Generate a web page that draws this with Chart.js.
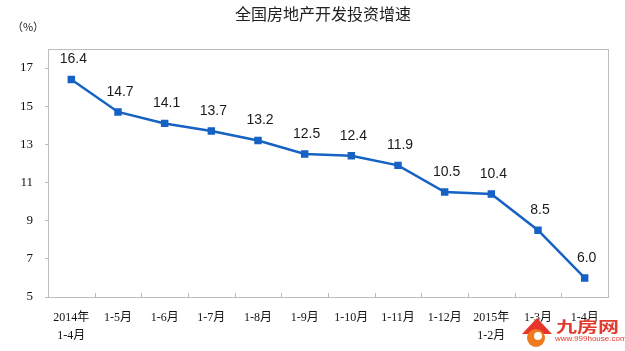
<!DOCTYPE html>
<html>
<head>
<meta charset="utf-8">
<script src="https://cdn.jsdelivr.net/npm/chart.js@4/dist/chart.umd.min.js"></script>
<style>
  html,body{margin:0;padding:0;background:#fff;overflow:hidden;}
</style>
</head>
<body>
<canvas id="growthChart" width="625" height="351"></canvas>
<script>
const TITLE = "全国房地产开发投资增速";
const UNIT = "（%）";
const periods = [["2014年","1-4月"],"1-5月","1-6月","1-7月","1-8月","1-9月","1-10月","1-11月","1-12月",["2015年","1-2月"],"1-3月","1-4月"];
const growth = [16.4,14.7,14.1,13.7,13.2,12.5,12.4,11.9,10.5,10.4,8.5,6.0];
const yTicks = [5,7,9,11,13,15,17];

const BLUE = "#1562c4";
const SERIF = "'Liberation Serif','Noto Sans CJK SC',serif";
const SANS = "'Liberation Sans',Arial,sans-serif";

// frame, inner x ticks, value labels, title and watermark
const decor = {
  id:"decor",
  afterDraw(chart){
    const {ctx, chartArea:a, scales:{x}} = chart;
    ctx.save();
    ctx.strokeStyle = "#bdbdbd";
    ctx.lineWidth = 1;
    ctx.strokeRect(Math.round(a.left)+0.5, Math.round(a.top)+0.5, Math.round(a.right-a.left), Math.round(a.bottom-a.top));
    ctx.beginPath();
    for(let i=1;i<periods.length;i++){
      const px = Math.round((x.getPixelForTick(i-1)+x.getPixelForTick(i))/2)+0.5;
      ctx.moveTo(px, a.bottom);
      ctx.lineTo(px, a.bottom-4);
    }
    ctx.stroke();

    // data labels
    ctx.fillStyle = "#1a1a1a";
    ctx.font = "14px "+SANS;
    ctx.textAlign = "center";
    ctx.textBaseline = "middle";
    chart.getDatasetMeta(0).data.forEach((p,i)=>{
      ctx.fillText(growth[i].toFixed(1), p.x+2, p.y-20);
    });

    // title + unit
    ctx.font = "16px 'Noto Sans CJK SC',sans-serif";
    ctx.fillStyle = "#222";
    ctx.fillText(TITLE, 323, 14);
    ctx.font = "11px 'Noto Sans CJK SC',sans-serif";
    ctx.fillText(UNIT, 28, 27);

    // watermark
    ctx.fillStyle = "#e8352b";
    ctx.beginPath();
    ctx.moveTo(522,334); ctx.lineTo(537,318); ctx.lineTo(552,334); ctx.closePath();
    ctx.fill();
    ctx.fillStyle = "#f07a1e";
    ctx.beginPath();
    ctx.arc(536,338,9,0,Math.PI*2);
    ctx.fill();
    ctx.fillStyle = "#fff";
    ctx.beginPath();
    ctx.arc(538,336,4,0,Math.PI*2);
    ctx.fill();
    ctx.fillStyle = "#e23b2e";
    ctx.textAlign = "left";
    ctx.save();
    ctx.translate(556,326);
    ctx.scale(1.4,1);
    ctx.font = "bold 15px 'Noto Sans CJK SC',sans-serif";
    ctx.fillText("九房网", 0, 0);
    ctx.restore();
    ctx.font = "8px "+SANS;
    ctx.fillText("www.999house.com", 555, 339);
    ctx.restore();
  }
};

new Chart(growthChart,{
  type:"line",
  data:{
    labels:periods,
    datasets:[{
      data:growth,
      borderColor:BLUE,
      backgroundColor:BLUE,
      borderWidth:2.5,
      pointStyle:"rect",
      pointRadius:3.5,
      pointHoverRadius:3.5,
      tension:0
    }]
  },
  options:{
    responsive:false,
    animation:false,
    devicePixelRatio:1,
    layout:{padding:{top:49,right:17,left:0,bottom:0}},
    plugins:{legend:{display:false},tooltip:{enabled:false},title:{display:false}},
    scales:{
      x:{
        offset:true,
        grid:{display:false,drawTicks:false},
        border:{display:false},
        ticks:{padding:12,color:"#111",font:{family:SERIF,size:12,lineHeight:1.5},maxRotation:0,autoSkip:false},
        afterFit(s){ s.height = 54; }
      },
      y:{
        min:5,max:18,
        afterBuildTicks(s){ s.ticks = yTicks.map(v=>({value:v})); },
        grid:{drawOnChartArea:false,drawTicks:true,tickLength:3,color:"#bdbdbd"},
        border:{display:false},
        ticks:{padding:12,color:"#111",font:{family:SERIF,size:13}},
        afterFit(s){ s.width = 48; }
      }
    }
  },
  plugins:[decor]
});
</script>
</body>
</html>
